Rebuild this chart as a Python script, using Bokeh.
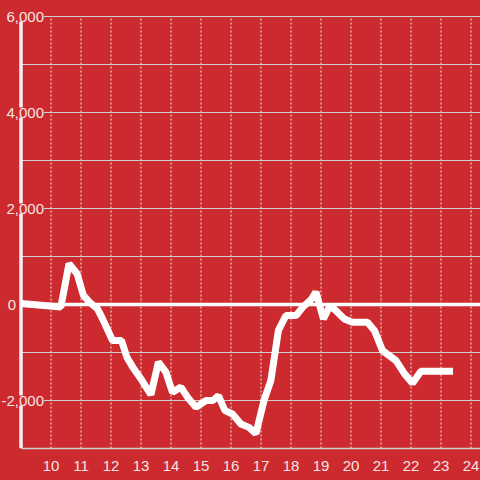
from bokeh.plotting import figure
from bokeh.models import Range1d, FixedTicker, ColumnDataSource
from bokeh.core.properties import value
from bokeh.embed import file_html
from bokeh.resources import INLINE

# ---- data -------------------------------------------------------------
hours = [9.0, 10.33, 10.6, 10.87, 11.08, 11.28, 11.55, 11.72, 12.05, 12.35,
         12.53, 12.72, 13.0, 13.33, 13.58, 13.83, 14.05, 14.33, 14.55, 14.83,
         15.0, 15.17, 15.4, 15.58, 15.8, 16.05, 16.33, 16.6, 16.83, 17.1,
         17.33, 17.58, 17.83, 18.17, 18.4, 18.67, 18.83, 19.08, 19.3, 19.55,
         19.78, 20.05, 20.55, 20.78, 21.05, 21.5, 21.78, 22.05, 22.33, 23.4]
values = [20, -50, 850, 640, 190, 50, -90, -300, -750, -750,
          -1100, -1300, -1550, -1880, -1200, -1410, -1830, -1720, -1930, -2140,
          -2070, -2000, -2000, -1900, -2210, -2280, -2490, -2560, -2690, -2000,
          -1580, -540, -230, -230, -50, 100, 260, -300, -20, -160,
          -300, -370, -370, -540, -960, -1170, -1440, -1640, -1390, -1390]

x_ticks = [10, 11, 12, 13, 14, 15, 16, 17, 18, 19, 20, 21, 22, 23, 24]
y_grid_values = [-2000, -1000, 1000, 2000, 3000, 4000, 5000, 6000]
y_label_values = [6000, 4000, 2000, -2000]
y_label_texts = ["6,000", "4,000", "2,000", "-2,000"]
zero_label = "0"

# ---- style / geometry ------------------------------------------------
RED = "#cc2a2f"
GRID = "#cfcfcf"
TXT = "#f4e4e4"
FONT = "Liberation Sans"

X0, Y_MIN, Y_MAX = 9.0, -3000, 6000
PX_PER_HOUR = 30.0
x_start = X0 - 20.5 / PX_PER_HOUR
x_end = x_start + 480 / PX_PER_HOUR
y_top = Y_MAX + 16 * (Y_MAX - Y_MIN) / 432.0

p = figure(width=480, height=480, output_backend="svg", toolbar_location=None,
           x_range=Range1d(x_start, x_end), y_range=Range1d(Y_MIN, y_top),
           min_border_left=0, min_border_right=0, min_border_top=0,
           min_border_bottom=32)
p.background_fill_color = RED
p.border_fill_color = RED
p.outline_line_color = None
p.xgrid.visible = False
p.ygrid.visible = False

# axes
p.yaxis.visible = False
p.xaxis.ticker = FixedTicker(ticks=x_ticks)
p.xaxis.bounds = (X0, x_end)
p.xaxis.axis_line_color = GRID
p.xaxis.axis_line_width = 1.5
p.xaxis.major_tick_line_color = None
p.xaxis.minor_tick_line_color = None
p.xaxis.major_label_standoff = 6
p.xaxis.major_label_text_font = FONT
p.xaxis.major_label_text_font_size = "15px"
p.xaxis.major_label_text_color = TXT

# grid lines drawn from the axis rightwards
n = len(y_grid_values)
p.segment(x0=[X0] * n, y0=y_grid_values, x1=[x_end] * n, y1=y_grid_values,
          line_color=GRID, line_width=1)
m = len(x_ticks)
p.segment(x0=x_ticks, y0=[Y_MIN] * m, x1=x_ticks, y1=[Y_MAX] * m,
          line_color="#ececec", line_width=1, line_dash="2 2")

# zero line and left axis line
p.segment(x0=[X0], y0=[0], x1=[x_end], y1=[0], line_color="white", line_width=3.5)
p.segment(x0=[X0], y0=[Y_MIN], x1=[X0], y1=[Y_MAX], line_color="#f2f2f2",
          line_width=3.5)

# data line
p.line(hours, values, line_color="white", line_width=7)

# y labels (red box interrupts axis line and grid lines)
lab_src = ColumnDataSource(dict(x=[X0] * len(y_label_values), y=y_label_values,
                                text=y_label_texts))
p.text(x="x", y="y", text="text", source=lab_src, x_offset=23,
       text_align="right", text_baseline="middle",
       text_font=value(FONT), text_font_size=value("15px"), text_color=TXT,
       background_fill_color=RED)
zero_src = ColumnDataSource(dict(x=[X0], y=[0], text=[zero_label]))
p.text(x="x", y="y", text="text", source=zero_src, x_offset=-5,
       text_align="right", text_baseline="middle",
       text_font=value(FONT), text_font_size=value("15px"), text_color=TXT)

html = file_html(p, INLINE)
html = html.replace("</head>", "<style>body{background:%s;}</style></head>" % RED)
open("out.html", "w").write(html)
